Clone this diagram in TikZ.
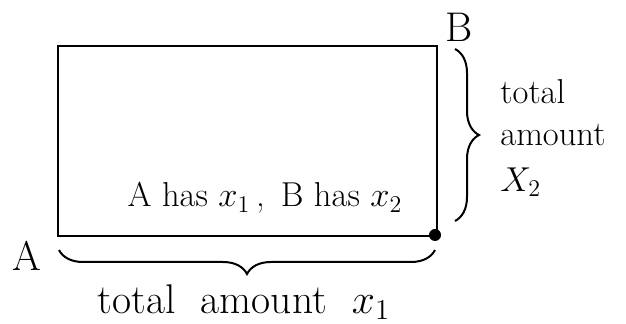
\documentclass[tikz,border=0pt]{standalone}
\usepackage{tikz}
\usetikzlibrary{decorations.pathreplacing,positioning}

\tikzset{
  box/.style={draw=black, line width=1pt},
  curly/.style={decorate, decoration={brace, amplitude=12pt}, line width=1pt},
  hand/.style={font=\LARGE, inner sep=0pt},
  corner/.style={circle, fill=black, inner sep=0pt, minimum size=6pt}
}

\begin{document}
\begin{tikzpicture}[x=0.5pt, y=0.5pt]
  \useasboundingbox (0,0) rectangle (626,-324);

  % corners of the region
  \coordinate (sw) at (58,-236);
  \coordinate (ne) at (437,-46);
  \draw[box] (sw) rectangle (ne);

  \node[corner] (dot) at (435,-235) {};
  \node[hand, font=\huge] (labA) at (27,-256) {A};
  \node[hand, font=\huge] (labB) at (459,-27) {B};
  \node[hand] (inside) at (265,-198) {A has $x_1$\,, \,B has $x_2$};

  % braces
  \coordinate (bl) at (59,-250);
  \coordinate (br) at (435,-250);
  \coordinate (rt) at (455,-49);
  \coordinate (rb) at (455,-221);
  \draw[curly] (br) -- (bl);
  \draw[curly] (rt) -- (rb);

  \node[hand, font=\huge] (bottomtxt) at (244,-302) {total \ amount \ $x_1$};
  \node[hand, align=left, anchor=west] (righttxt) at (500,-138)
    {total\\[-1pt]amount\\[1pt]$X_2$};
\end{tikzpicture}
\end{document}
